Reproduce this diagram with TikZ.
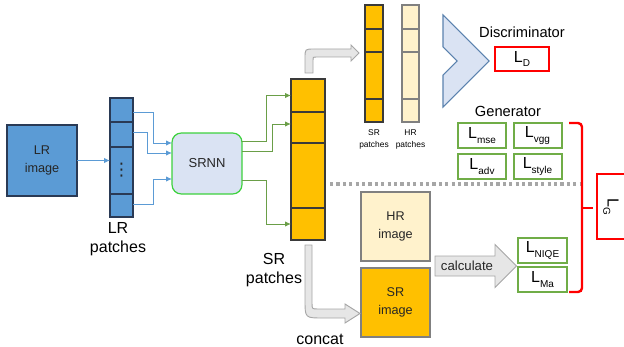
\documentclass[tikz,border=0pt]{standalone}
\usepackage{fontspec}
\setmainfont{Liberation Sans}
\newfontfamily\dejavufont{DejaVu Sans}
\usetikzlibrary{arrows.meta,calc}
\definecolor{lrblue}{HTML}{5B9BD5}
\definecolor{lrborder}{HTML}{2A3A55}
\definecolor{srorange}{HTML}{FFC000}
\definecolor{srborder}{HTML}{3A3A3A}
\definecolor{hrcream}{HTML}{FFF2CC}
\definecolor{hrborder}{HTML}{808080}
\definecolor{nnfill}{HTML}{DAE3F3}
\definecolor{nnborder}{HTML}{3DD13D}
\definecolor{gline}{HTML}{6A9E48}
\definecolor{lossgreen}{HTML}{70AD47}
\definecolor{arrowgray}{HTML}{E6E6E6}
\definecolor{arrowedge}{HTML}{A6A6A6}
\definecolor{discedge}{HTML}{5B82AE}
\definecolor{txtdark}{HTML}{262626}
\newcommand\Lsub[1]{L\raisebox{-0.5ex}{\fontsize{7.5pt}{7.5pt}\selectfont #1}}
\begin{document}
\begin{tikzpicture}[x=0.75pt,y=-0.75pt,
  cell/.style={draw, rectangle, inner sep=0pt, outer sep=0pt, line width=0.8pt},
  lrcell/.style={cell, fill=lrblue, draw=lrborder, minimum width=17.25pt},
  srcell/.style={cell, fill=srorange, draw=srborder, minimum width=25.5pt},
  smallsr/.style={cell, fill=srorange, draw=srborder, minimum width=13.5pt},
  smallhr/.style={cell, fill=hrcream, draw=hrborder, minimum width=12.75pt},
  imgbox/.style={draw, rectangle, inner sep=0pt, outer sep=0pt, line width=0.9pt, align=center,
    font=\fontsize{9.5pt}{13pt}\selectfont, minimum width=51.75pt, minimum height=51.75pt},
  lossg/.style={draw=lossgreen, line width=1.5pt, rectangle, inner sep=0pt, outer sep=0pt,
    minimum width=36pt, minimum height=18.75pt, font=\fontsize{12pt}{12pt}\selectfont},
  lossr/.style={draw=red, line width=1.5pt, rectangle, inner sep=0pt, outer sep=0pt,
    font=\fontsize{12pt}{12pt}\selectfont},
  barrow/.style={draw=lrblue, line width=0.7pt, -{Latex[length=4.5pt,width=4pt]}},
  garrow/.style={draw=gline, line width=0.7pt, -{Latex[length=4.5pt,width=4pt]}},
  bigarrow/.style={fill=arrowgray, draw=arrowedge, line width=0.7pt},
  lbl/.style={inner sep=0pt, align=center}
]
\useasboundingbox (0,0) rectangle (624,346);

% LR image
\node[imgbox, fill=lrblue, draw=lrborder, minimum width=52.5pt, minimum height=53.25pt, text=txtdark]
  (lrimg) at (42,160.5) {LR\\image};

% LR patches
\node[lrcell, minimum height=18pt] (lrp1) at (121.5,110) {};
\node[lrcell, minimum height=18.75pt] (lrp2) at (121.5,134.5) {};
\node[lrcell, minimum height=35.25pt, text=txtdark, font=\dejavufont\fontsize{13pt}{13pt}\selectfont] (lrp3) at (121.5,170.5) {⋮};
\node[lrcell, minimum height=17.25pt] (lrp4) at (121.5,205.5) {};
\node[lbl, font=\fontsize{12pt}{14.25pt}\selectfont] (lrlbl) at (118,239.5) {LR\\patches};

% SRNN
\node[draw=nnborder, fill=nnfill, line width=0.9pt, rounded corners=7pt, minimum width=52.5pt,
  minimum height=45.75pt, inner sep=0pt, outer sep=0pt, font=\fontsize{9.75pt}{12pt}\selectfont, text=txtdark]
  (srnn) at (207,163.5) {SRNN};

% SR patches (big)
\node[srcell, minimum height=24.75pt] (srp1) at (308,95.5) {};
\node[srcell, minimum height=23.25pt] (srp2) at (308,127.5) {};
\node[srcell, minimum height=48.75pt] (srp3) at (308,175.5) {};
\node[srcell, minimum height=24pt] (srp4) at (308,224) {};
\node[lbl, font=\fontsize{12pt}{14.25pt}\selectfont] (srlbl) at (274,270) {SR\\patches};

% arrows LR
\draw[barrow] (lrimg.east) -- (lrimg.east -| lrp3.west);
\draw[barrow] ($(lrp1.east)+(0,2)$) -- ++(20,0) |- ($(srnn.west)+(0,-20.5)$);
\draw[barrow] ($(lrp2.east)+(0,-2)$) -- ++(14,0) |- ($(srnn.west)+(0,-10.5)$);
\draw[barrow] ($(lrp4.east)+(0,-1)$) -- ++(20,0) |- ($(srnn.west)+(0,15.5)$);

% arrows SRNN -> SR patches
\draw[garrow] ($(srnn.east)+(0,-22.5)$) -- ++(24,0) |- (srp1.west);
\draw[garrow] ($(srnn.east)+(0,-12.5)$) -- ++(30,0) |- ($(srp2.west)+(0,-3.5)$);
\draw[garrow] ($(srnn.east)+(0,16.5)$) -- ++(24,0) |- (srp4.west);

% small SR patches
\node[smallsr, minimum height=18pt] (ssr1) at (374,17) {};
\node[smallsr, minimum height=17.25pt] (ssr2) at (374,40.5) {};
\node[smallsr, minimum height=35.25pt] (ssr3) at (374,75.5) {};
\node[smallsr, minimum height=17.25pt] (ssr4) at (374,110.5) {};
\node[smallhr, minimum height=18pt] (shr1) at (410.5,17) {};
\node[smallhr, minimum height=17.25pt] (shr2) at (410.5,40.5) {};
\node[smallhr, minimum height=35.25pt] (shr3) at (410.5,75.5) {};
\node[smallhr, minimum height=17.25pt] (shr4) at (410.5,110.5) {};
\node[lbl, font=\fontsize{6.3pt}{9pt}\selectfont] (ssrlbl) at (374,139) {SR\\patches};
\node[lbl, font=\fontsize{6.3pt}{9pt}\selectfont] (shrlbl) at (410.5,139) {HR\\patches};

% gray arrow up to small patches
\draw[bigarrow] (305,73) -- (305,58) .. controls (305,49) .. (314,49) -- (351,49) -- (351,45)
  -- (359,53) -- (351,61) -- (351,57) -- (316,57) .. controls (313,57) .. (313,60) -- (313,73) -- cycle;

% Discriminator
\draw[fill=nnfill, draw=discedge, line width=0.8pt] (443,15) -- (489,61) -- (443,107) -- (443,75)
  -- (457,61) -- (443,47) -- cycle;
\node[lbl, font=\fontsize{11pt}{13pt}\selectfont] (disc) at (522,32) {Discriminator};
\node[lossr, minimum width=40.5pt, minimum height=18pt] (ld) at (522,59) {\Lsub{D}};

% Generator
\node[lbl, font=\fontsize{11pt}{13pt}\selectfont] (gen) at (508,111) {Generator};
\node[lossg] (lmse) at (482,135.5) {\Lsub{mse}};
\node[lossg] (lvgg) at (537.5,135.5) {\Lsub{vgg}};
\node[lossg] (ladv) at (482,166.5) {\Lsub{adv}};
\node[lossg] (lstyle) at (537.5,166.5) {\Lsub{style}};

% dotted separator
\draw[draw=arrowedge, line width=2.4pt, dash pattern=on 2.4pt off 2.4pt] (330,184) -- (580,184);

% HR / SR images
\node[imgbox, fill=hrcream, draw=hrborder, text=txtdark] (hrimg) at (395.5,226.5) {HR\\image};
\node[imgbox, fill=srorange, draw=hrborder, text=txtdark] (srimg) at (395.5,302.5) {SR\\image};

% concat arrow
\draw[bigarrow] (305,245) -- (305,300) .. controls (305,318) .. (323,318) -- (345,318) -- (345,323)
  -- (360,313.5) -- (345,304) -- (345,309) -- (318,309) .. controls (312,309) .. (312,303) -- (312,245) -- cycle;
\node[font=\fontsize{12pt}{14pt}\selectfont, inner sep=0pt, anchor=base] (concat) at (320,344) {concat};

% calculate arrow
\draw[bigarrow] (435,256) -- (495,256) -- (495,244.5) -- (516.5,266) -- (495,287.5) -- (495,276)
  -- (435,276) -- cycle;
\node[font=\fontsize{9.9pt}{12pt}\selectfont, inner sep=0pt, text=txtdark] (calc) at (467,266) {calculate};

% NIQE / Ma
\node[lossg, minimum width=36.75pt] (lniqe) at (542.5,250.5) {\Lsub{NIQE}};
\node[lossg, minimum width=36.75pt] (lma) at (542.5,279.5) {\Lsub{Ma}};

% brace
\draw[red, line width=1.8pt, rounded corners=3pt] (569,123) -- (582,123) -- (582,292) -- (569,292);
\draw[red, line width=1.8pt] (582,208) -- (593,208);

% L_G
\node[draw=red, line width=1.8pt, rectangle, minimum width=30pt, minimum height=48.75pt,
  inner sep=0pt, outer sep=0pt, anchor=west] (lg) at (597,206.5) {};
\node[rotate=-90, font=\fontsize{12pt}{12pt}\selectfont, inner sep=0pt] (lgtxt) at (611,207) {\Lsub{G}};
\end{tikzpicture}
\end{document}
